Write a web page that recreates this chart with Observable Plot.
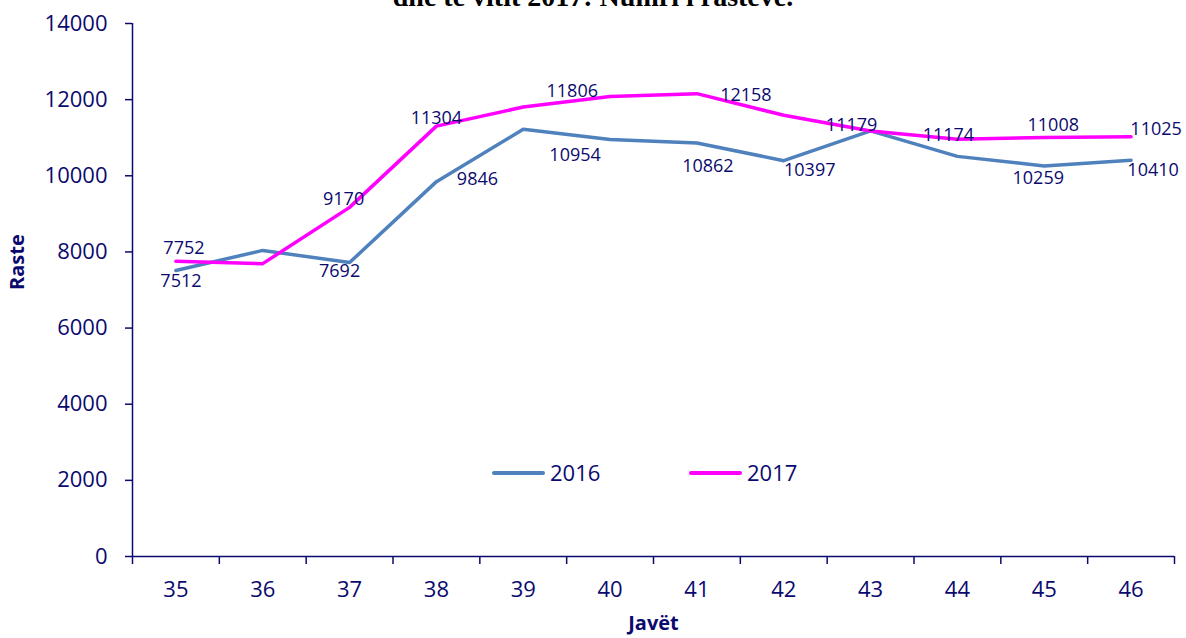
<!DOCTYPE html>
<html>
<head>
<meta charset="utf-8">
<script src="https://cdn.jsdelivr.net/npm/d3@7"></script>
<script src="https://cdn.jsdelivr.net/npm/@observablehq/plot@0.6"></script>
<style>
  html, body { margin: 0; padding: 0; background: #fff; }
  #wrap { position: relative; width: 1186px; height: 638px; overflow: hidden; }
  #title { position: absolute; left: 0; width: 1186px; top: -19px; text-align: center;
           font-family: "Liberation Serif", serif; font-weight: bold; font-size: 28px; color: #000;
           padding-left: 0; box-sizing: border-box; }
  .leg { position: absolute; font-family: "Open Sans", sans-serif; font-size: 22px; color: #0a0a6e; line-height: 1; }
  .leg span.sw { position: absolute; height: 4px; border-radius: 2px; }
</style>
</head>
<body>
<div id="wrap">
  <div id="chart"></div>
  <div id="title">dhe të vitit 2017: Numri i rasteve.</div>
  <div class="leg" id="legend"></div>
</div>
<script>
// ---- data ----
const weeks = [35, 36, 37, 38, 39, 40, 41, 42, 43, 44, 45, 46];
const series2016 = [7512, 8040, 7720, 9846, 11220, 10954, 10862, 10397, 11179, 10510, 10259, 10410];
const series2017 = [7752, 7692, 9170, 11304, 11806, 12080, 12158, 11590, 11174, 10960, 11008, 11025];
const seriesNames = ["2016", "2017"];
const yTicks = [0, 2000, 4000, 6000, 8000, 10000, 12000, 14000];
// data labels as shown on the chart: week where shown, value
const labelWeeks  = [35, 35, 37, 37, 38, 38, 39, 40, 41, 41, 42, 43, 44, 45, 46, 45, 46];
const labelValues = [7752, 7512, 7692, 9170, 11304, 9846, 11806, 10954, 12158, 10862, 10397, 11179, 11174, 11008, 11025, 10259, 10410];

// ---- layout config (not data) ----
const labelNudge = [[8,-13],[5,11],[-10,8],[-6,-8],[0,-8],[41,-2],[49,-16],[-35,16],[49,2],[11,23],[26,10],[-19,-6],[-9,4],[9,-12],[25,-8],[-6,12],[22,10]];
const navy = "#0a0a6e";
const colors = {"2016": "#4F81BD", "2017": "#FF00FF"};

const rows = [];
weeks.forEach((w, i) => {
  rows.push({week: w, value: series2016[i], series: "2016"});
  rows.push({week: w, value: series2017[i], series: "2017"});
});
const labels = labelWeeks.map((w, i) => ({week: w, value: labelValues[i], dx: labelNudge[i][0], dy: labelNudge[i][1]}));
const boundaries = weeks.map(w => w - 0.5).concat([weeks[weeks.length - 1] + 0.5]);

const labelMarks = labels.map(l => Plot.text([l], {
  x: "week", y: "value", text: d => String(d.value), dx: l.dx, dy: l.dy, fontSize: 18, fill: navy
}));

const chart = Plot.plot({
  width: 1186,
  height: 638,
  marginTop: 23,
  marginBottom: 82,
  marginLeft: 132,
  marginRight: 12,
  style: {fontFamily: "'Open Sans', sans-serif", fontSize: "22px", color: navy, background: "#fff", overflow: "visible"},
  x: {type: "linear", domain: [boundaries[0], boundaries[boundaries.length - 1]], label: null},
  y: {domain: [0, 14000], label: null},
  marks: [
    Plot.axisY({ticks: yTicks, tickSize: 7, tickPadding: 18, tickFormat: d => String(d), label: null, strokeWidth: 1.5}),
    Plot.axisX({ticks: boundaries, tickSize: 8, tickFormat: () => "", label: null, strokeWidth: 1.5}),
    Plot.axisX({ticks: weeks, tickSize: 0, tickPadding: 25, tickFormat: d => String(d), label: null}),
    Plot.ruleY([0], {stroke: navy, strokeWidth: 1.5}),
    Plot.ruleX([boundaries[0]], {stroke: navy, strokeWidth: 1.5}),
    Plot.line(rows, {x: "week", y: "value", z: "series", stroke: d => colors[d.series], strokeWidth: 3.5}),
    ...labelMarks,
    Plot.text(["Raste"], {frameAnchor: "left", dx: -115, rotate: -90, fontWeight: "bold", fontSize: 20, fill: navy}),
    Plot.text(["Javët"], {frameAnchor: "bottom", dy: 73, fontWeight: "bold", fontSize: 20, fill: navy})
  ]
});
document.getElementById("chart").appendChild(chart);

// legend (HTML, overlaid inside plot area)
const leg = document.getElementById("legend");
const legPos = [{sw: 492, tx: 550}, {sw: 689, tx: 747}];
seriesNames.forEach((name, i) => {
  const sw = document.createElement("span");
  sw.className = "sw";
  sw.style.left = legPos[i].sw + "px";
  sw.style.width = "53px";
  sw.style.top = "471px";
  sw.style.background = colors[name];
  leg.appendChild(sw);
  const t = document.createElement("span");
  t.textContent = name;
  t.style.position = "absolute";
  t.style.left = legPos[i].tx + "px";
  t.style.top = "461px";
  leg.appendChild(t);
});
leg.style.left = "0px"; leg.style.top = "0px";
</script>
</body>
</html>
